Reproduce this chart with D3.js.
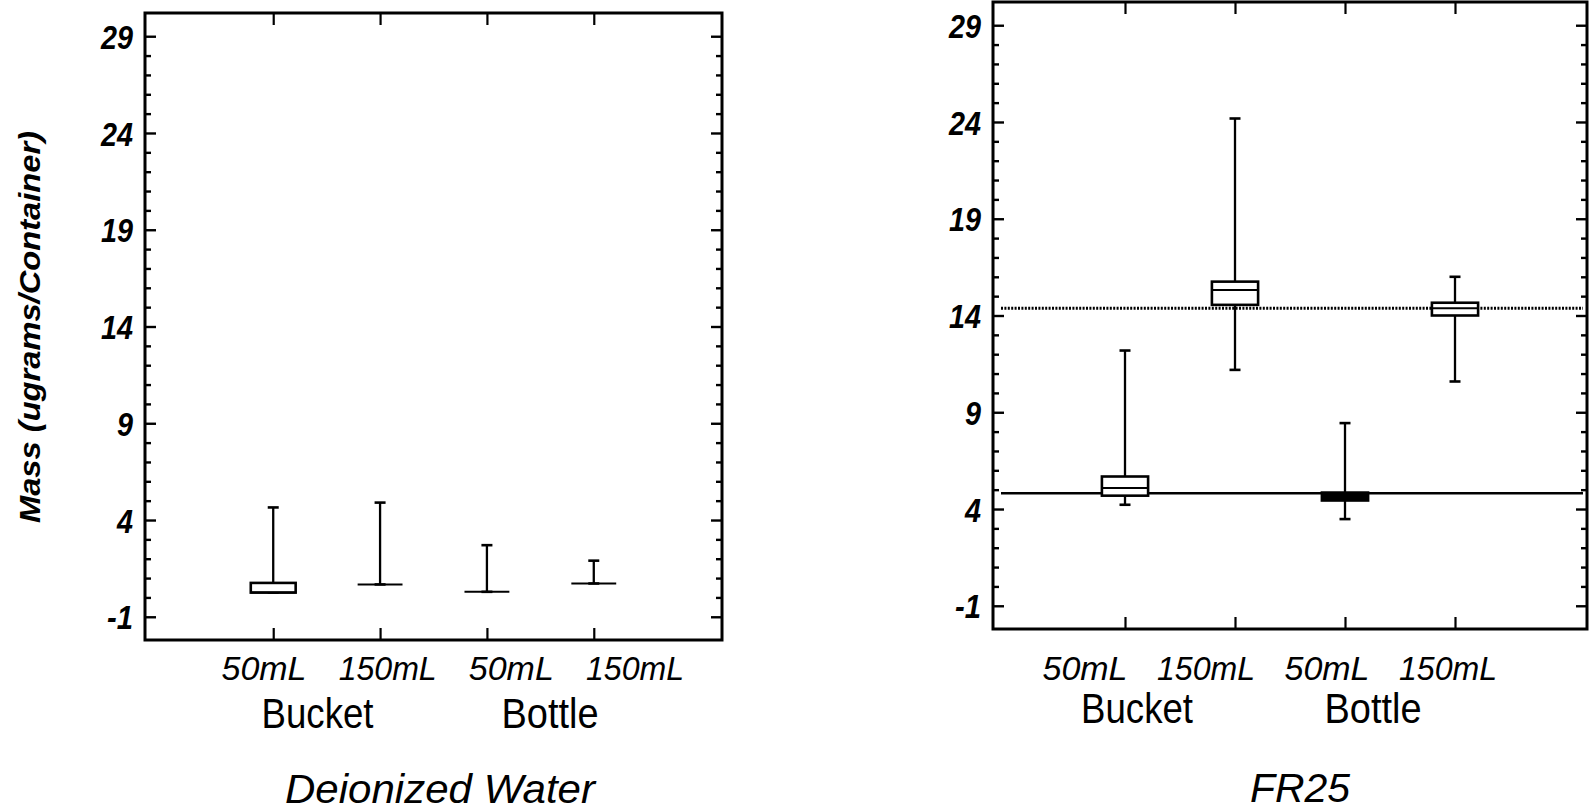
<!DOCTYPE html>
<html>
<head>
<meta charset="utf-8">
<script src="https://cdn.jsdelivr.net/npm/d3@7"></script>
<style>
  html, body { margin: 0; padding: 0; background: #fff; }
  svg { display: block; }
  text { font-family: "Liberation Sans", Arial, sans-serif; fill: #000; }
</style>
</head>
<body>
<svg id="chart" width="1596" height="811"></svg>
<script>
// Container sizes (x categories) and container types
const categories = ["50mL", "150mL", "50mL", "150mL"];
const groups = ["Bucket", "Bottle"];
const yTicks = [-1, 4, 9, 14, 19, 24, 29];
const yTickLabels = ["-1", "4", "9", "14", "19", "24", "29"];
const yDomain = [-2.2, 30.2];

// Deionized Water: box-plot statistics (ugrams/container)
const diMin    = [0.25, 0.67, 0.29, 0.72];
const diQ1     = [0.25, 0.67, 0.29, 0.72];
const diMedian = [0.25, 0.67, 0.29, 0.72];
const diQ3     = [0.75, 0.67, 0.29, 0.72];
const diMax    = [4.65, 4.90, 2.70, 1.90];

// FR25: box-plot statistics (ugrams/container)
const frMin    = [4.22, 11.19, 3.48, 10.59];
const frQ1     = [4.69, 14.55, 4.44, 14.00];
const frMedian = [5.09, 15.32, 4.65, 14.37];
const frQ3     = [5.68, 15.75, 4.85, 14.66];
const frMax    = [12.19, 24.18, 8.44, 16.00];

// FR25 reference levels
const frDottedLevel = 14.37;
const frSolidLevel  = 4.82;

const svg = d3.select("#chart");

const panels = [
  {
    title: "Deionized Water",
    stats: { min: diMin, q1: diQ1, med: diMedian, q3: diQ3, max: diMax },
    frame: { x0: 145, x1: 722, y0: 13, y1: 640 },
    catLabelRange: [264, 635],
    groupX: [317.5, 550], groupBaseline: 728,
    titleX: 440, titleBaseline: 803, titleLen: 310,
    filled: [],
    refLines: []
  },
  {
    title: "FR25",
    stats: { min: frMin, q1: frQ1, med: frMedian, q3: frQ3, max: frMax },
    frame: { x0: 993, x1: 1587, y0: 2, y1: 629 },
    catLabelRange: [1085, 1448],
    groupX: [1137, 1373], groupBaseline: 723,
    titleX: 1300, titleBaseline: 802, titleLen: 100,
    filled: [2],
    refLines: [
      { value: frDottedLevel, dash: "2,1.4" },
      { value: frSolidLevel, dash: null }
    ]
  }
];

const catLabelLen = { "50mL": 85, "150mL": 98 };
const groupLabelLen = { "Bucket": 112, "Bottle": 97 };
const tickLabelLen = { "-1": 26, "4": 16, "9": 16, "14": 32, "19": 32, "24": 32, "29": 32 };

panels.forEach(p => {
  const f = p.frame;
  const g = svg.append("g");
  const idx = d3.range(categories.length);

  const x = d3.scalePoint().domain(idx).range([f.x0, f.x1]).padding(1.2);
  const y = d3.scaleLinear().domain(yDomain).range([f.y1, f.y0]);
  const step = x.step();
  const bw = step * 0.42;
  const capW = 11;

  // minor ticks every unit, major ticks every 5
  const minor = d3.range(yTicks[0], yTicks[yTicks.length - 1] + 1).filter(v => !yTicks.includes(v));

  // left axis (ticks inward) with labels
  const leftAxis = d3.axisLeft(y).tickValues(yTicks).tickSize(-11).tickPadding(12)
    .tickFormat((d, i) => yTickLabels[i]);
  const la = g.append("g").attr("transform", `translate(${f.x0},0)`).call(leftAxis);
  la.select(".domain").remove();
  la.selectAll("line").attr("stroke", "#000").attr("stroke-width", 2.4);
  la.selectAll("text")
    .style("font-size", "33px").style("font-weight", "bold").style("font-style", "italic")
    .attr("dy", "0.37em")
    .attr("textLength", (d, i) => tickLabelLen[yTickLabels[i]])
    .attr("lengthAdjust", "spacingAndGlyphs");

  const leftMinor = d3.axisLeft(y).tickValues(minor).tickSize(-6).tickFormat("");
  const lm = g.append("g").attr("transform", `translate(${f.x0},0)`).call(leftMinor);
  lm.select(".domain").remove();
  lm.selectAll("line").attr("stroke", "#000").attr("stroke-width", 2.4);

  // right axis mirrors left ticks, no labels
  const rightAxis = d3.axisRight(y).tickValues(yTicks).tickSize(-11).tickFormat("");
  const ra = g.append("g").attr("transform", `translate(${f.x1},0)`).call(rightAxis);
  ra.select(".domain").remove();
  ra.selectAll("line").attr("stroke", "#000").attr("stroke-width", 2.4);
  const rightMinor = d3.axisRight(y).tickValues(minor).tickSize(-6).tickFormat("");
  const rm = g.append("g").attr("transform", `translate(${f.x1},0)`).call(rightMinor);
  rm.select(".domain").remove();
  rm.selectAll("line").attr("stroke", "#000").attr("stroke-width", 2.4);

  // top and bottom category ticks (inward)
  const topAxis = d3.axisTop(x).tickSize(-12).tickFormat("");
  const ta = g.append("g").attr("transform", `translate(0,${f.y0})`).call(topAxis);
  ta.select(".domain").remove();
  ta.selectAll("line").attr("stroke", "#000").attr("stroke-width", 2.2);
  const botAxis = d3.axisBottom(x).tickSize(-12).tickFormat("");
  const ba = g.append("g").attr("transform", `translate(0,${f.y1})`).call(botAxis);
  ba.select(".domain").remove();
  ba.selectAll("line").attr("stroke", "#000").attr("stroke-width", 2.2);

  // reference levels
  p.refLines.forEach(r => {
    g.append("line")
      .attr("x1", f.x0 + 8).attr("x2", f.x1 - 4)
      .attr("y1", y(r.value)).attr("y2", y(r.value))
      .attr("stroke", "#000").attr("stroke-width", r.dash ? 3 : 2.5)
      .attr("stroke-dasharray", r.dash);
  });

  // box plots
  const s = p.stats;
  const boxes = g.append("g").selectAll("g").data(idx).join("g");
  boxes.append("line") // upper whisker
    .attr("x1", i => x(i)).attr("x2", i => x(i))
    .attr("y1", i => y(s.max[i])).attr("y2", i => y(s.q3[i]))
    .attr("stroke", "#000").attr("stroke-width", 2.3);
  boxes.append("line") // lower whisker
    .attr("x1", i => x(i)).attr("x2", i => x(i))
    .attr("y1", i => y(s.q1[i])).attr("y2", i => y(s.min[i]))
    .attr("stroke", "#000").attr("stroke-width", 2.3);
  boxes.append("line") // top cap
    .attr("x1", i => x(i) - capW / 2).attr("x2", i => x(i) + capW / 2)
    .attr("y1", i => y(s.max[i])).attr("y2", i => y(s.max[i]))
    .attr("stroke", "#000").attr("stroke-width", 2.6);
  boxes.append("line") // bottom cap
    .attr("x1", i => x(i) - capW / 2).attr("x2", i => x(i) + capW / 2)
    .attr("y1", i => y(s.min[i])).attr("y2", i => y(s.min[i]))
    .attr("stroke", "#000").attr("stroke-width", 2.6);
  boxes.append("rect")
    .attr("x", i => x(i) - bw / 2).attr("width", bw)
    .attr("y", i => y(s.q3[i]))
    .attr("height", i => Math.max(0, y(s.q1[i]) - y(s.q3[i])))
    .attr("fill", i => p.filled.includes(i) ? "#000" : "#fff")
    .attr("stroke", "#000").attr("stroke-width", 2.6);
  boxes.append("line") // median
    .attr("x1", i => x(i) - bw / 2).attr("x2", i => x(i) + bw / 2)
    .attr("y1", i => y(s.med[i])).attr("y2", i => y(s.med[i]))
    .attr("stroke", "#000").attr("stroke-width", 2);

  // frame
  g.append("rect")
    .attr("x", f.x0).attr("y", f.y0)
    .attr("width", f.x1 - f.x0).attr("height", f.y1 - f.y0)
    .attr("fill", "none").attr("stroke", "#000").attr("stroke-width", 3);

  // category labels
  const xl = d3.scalePoint().domain(idx).range(p.catLabelRange);
  g.append("g").selectAll("text").data(idx).join("text")
    .attr("x", i => xl(i)).attr("y", 680)
    .attr("text-anchor", "middle")
    .attr("textLength", i => catLabelLen[categories[i]])
    .attr("lengthAdjust", "spacingAndGlyphs")
    .style("font-size", "33px").style("font-style", "italic")
    .text(i => categories[i]);

  // container type labels
  g.append("g").selectAll("text").data(groups).join("text")
    .attr("x", (d, j) => p.groupX[j]).attr("y", p.groupBaseline)
    .attr("text-anchor", "middle")
    .attr("textLength", d => groupLabelLen[d])
    .attr("lengthAdjust", "spacingAndGlyphs")
    .style("font-size", "42px")
    .text(d => d);

  // panel title
  g.append("text")
    .attr("x", p.titleX).attr("y", p.titleBaseline)
    .attr("text-anchor", "middle")
    .attr("textLength", p.titleLen)
    .attr("lengthAdjust", "spacingAndGlyphs")
    .style("font-size", "40px").style("font-style", "italic")
    .text(p.title);
});

// y-axis title
svg.append("text")
  .attr("transform", "translate(40,327) rotate(-90)")
  .attr("text-anchor", "middle")
  .attr("textLength", 392)
  .attr("lengthAdjust", "spacingAndGlyphs")
  .style("font-size", "29px").style("font-weight", "bold").style("font-style", "italic")
  .text("Mass (ugrams/Container)");
</script>
</body>
</html>
